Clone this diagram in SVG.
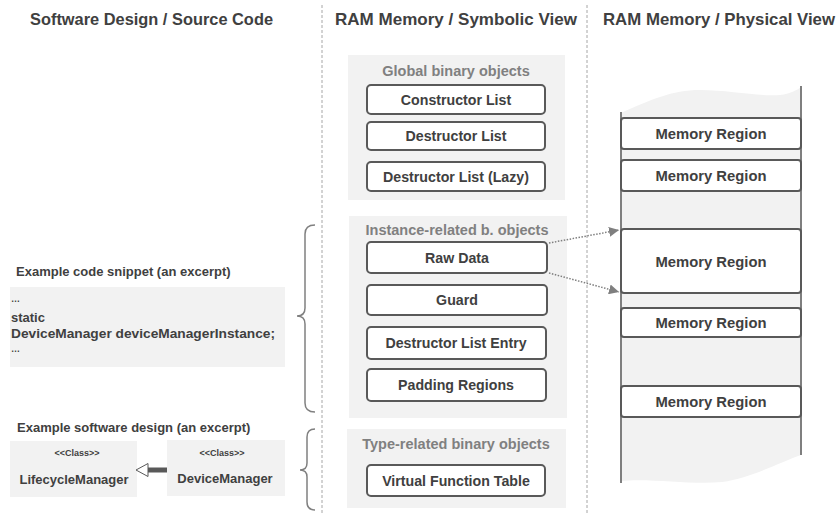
<svg xmlns="http://www.w3.org/2000/svg" width="838" height="514" viewBox="0 0 838 514">
<style>
text{font-family:"Liberation Sans",Arial,sans-serif;font-weight:bold;fill:#404040}
.hdr{font-size:16.5px}
.grp{font-size:14.5px;fill:#808080;text-anchor:middle}
.lbl{font-size:14.2px;text-anchor:middle}
.mlbl{font-size:14.8px;text-anchor:middle}
.sm{font-size:13px}
.code{font-size:13px}
.panel{fill:#f2f2f2}
.box{fill:#fff;stroke:#595959;stroke-width:2}
.mem{fill:#fff;stroke:#595959;stroke-width:2}
.sep{stroke:#a6a6a6;stroke-width:1;stroke-dasharray:3 2;fill:none}
.brace{fill:none;stroke:#808080;stroke-width:1.5}
.dot{fill:none;stroke:#7f7f7f;stroke-width:1.5;stroke-dasharray:1.5 1.5}
</style>
<defs>
<marker id="ah" viewBox="0 0 10 10" refX="10" refY="5" markerWidth="10" markerHeight="10" markerUnits="userSpaceOnUse" orient="auto">
<path d="M0,0 L10,5 L0,10 Z" fill="#7f7f7f"/>
</marker>
</defs>

<g id="headers">
<text class="hdr" x="30" y="25" textLength="243" lengthAdjust="spacingAndGlyphs">Software Design / Source Code</text>
<text class="hdr" x="335" y="25" textLength="242" lengthAdjust="spacingAndGlyphs">RAM Memory / Symbolic View</text>
<text class="hdr" x="603" y="25" textLength="232" lengthAdjust="spacingAndGlyphs">RAM Memory / Physical View</text>
</g>

<g id="separators">
<line class="sep" x1="322" y1="5" x2="322" y2="514"/>
<line class="sep" x1="587" y1="5" x2="587" y2="514"/>
</g>

<g id="code-snippet">
<text class="sm" x="16" y="276">Example code snippet (an excerpt)</text>
<rect class="panel" x="10" y="287" width="275" height="80"/>
<text class="code" x="11" y="302" style="font-size:9px">…</text>
<text class="code" x="11" y="322">static</text>
<text class="code" x="11" y="338" textLength="264" lengthAdjust="spacingAndGlyphs">DeviceManager deviceManagerInstance;</text>
<text class="code" x="11" y="352" style="font-size:9px">…</text>
</g>

<g id="software-design">
<text class="sm" x="17" y="432">Example software design (an excerpt)</text>
</g>
<g id="LifecycleManager">
<rect class="panel" x="10" y="441" width="127" height="56"/>
<text x="77" y="456" style="font-size:9px;text-anchor:middle">&lt;&lt;Class&gt;&gt;</text>
<text x="74" y="484" style="font-size:13px;text-anchor:middle">LifecycleManager</text>
</g>
<g id="DeviceManager">
<rect class="panel" x="167" y="440" width="118" height="56"/>
<text x="222" y="456" style="font-size:9px;text-anchor:middle">&lt;&lt;Class&gt;&gt;</text>
<text x="225" y="483" style="font-size:13px;text-anchor:middle">DeviceManager</text>
</g>

<g id="braces">
<path class="brace" d="M315,225 C308,225 305,229 305,234 L305,308 C305,313 302,316 297,316 C302,316 305,319 305,324 L305,403 C305,408 308,412 315,412"/>
<path class="brace" d="M315,429 C310,429 307,432 307,437 L307,463 C307,467 305,470 300,470 C305,470 307,473 307,477 L307,502 C307,507 310,510 315,510"/>
</g>

<g id="global-objects">
<rect class="panel" x="348" y="55" width="217" height="145"/>
<text class="grp" x="456" y="76">Global binary objects</text>
</g>
<g id="constructor-list">
<rect class="box" x="367" y="85" width="178" height="29" rx="4"/>
<text class="lbl" x="456" y="104.5">Constructor List</text>
</g>
<g id="destructor-list">
<rect class="box" x="367" y="122" width="178" height="28" rx="4"/>
<text class="lbl" x="456" y="141">Destructor List</text>
</g>
<g id="destructor-list-lazy">
<rect class="box" x="367" y="162" width="178" height="29" rx="4"/>
<text class="lbl" x="456" y="181.5">Destructor List (Lazy)</text>
</g>

<g id="instance-objects">
<rect class="panel" x="349" y="216" width="218" height="202"/>
<text class="grp" x="457" y="235">Instance-related b. objects</text>
</g>
<g id="raw-data">
<rect class="box" x="367" y="242" width="180" height="31" rx="4"/>
<text class="lbl" x="457" y="262.5">Raw Data</text>
</g>
<g id="guard">
<rect class="box" x="367" y="285" width="180" height="30" rx="4"/>
<text class="lbl" x="457" y="305">Guard</text>
</g>
<g id="destructor-list-entry">
<rect class="box" x="367" y="327" width="179" height="32" rx="4"/>
<text class="lbl" x="456" y="348">Destructor List Entry</text>
</g>
<g id="padding-regions">
<rect class="box" x="367" y="369" width="179" height="32" rx="4"/>
<text class="lbl" x="456" y="390">Padding Regions</text>
</g>

<g id="type-objects">
<rect class="panel" x="347" y="429" width="219" height="79"/>
<text class="grp" x="456" y="449">Type-related binary objects</text>
</g>
<g id="virtual-function-table">
<rect class="box" x="367" y="465" width="178" height="31" rx="4"/>
<text class="lbl" x="456" y="486">Virtual Function Table</text>
</g>

<g id="physical-memory">
<path d="M621,113 C650,100 672,90 700,90 C730,90 760,97 780,95 C790,94 797,90 801,87 L801,455 C780,462 752,478 722,482 C692,485 650,478 621,481 Z" fill="#f2f2f2"/>
<line x1="621" y1="112" x2="621" y2="483" stroke="#7f7f7f" stroke-width="2"/>
<line x1="801" y1="86" x2="801" y2="455" stroke="#7f7f7f" stroke-width="2"/>
</g>
<g id="memory-region-1">
<rect class="mem" x="621" y="118" width="180" height="31" rx="3"/>
<text class="mlbl" x="711" y="139">Memory Region</text>
</g>
<g id="memory-region-2">
<rect class="mem" x="621" y="160" width="180" height="31" rx="3"/>
<text class="mlbl" x="711" y="181">Memory Region</text>
</g>
<g id="memory-region-3">
<rect class="mem" x="621" y="229" width="180" height="64" rx="3"/>
<text class="mlbl" x="711" y="267">Memory Region</text>
</g>
<g id="memory-region-4">
<rect class="mem" x="621" y="308" width="180" height="29" rx="3"/>
<text class="mlbl" x="711" y="328">Memory Region</text>
</g>
<g id="memory-region-5">
<rect class="mem" x="621" y="386" width="180" height="31" rx="3"/>
<text class="mlbl" x="711" y="407">Memory Region</text>
</g>

<g id="connectors">
<line class="dot" x1="549" y1="243" x2="619" y2="230" marker-end="url(#ah)"/>
<line class="dot" x1="549" y1="273" x2="619" y2="292" marker-end="url(#ah)"/>
<line x1="167" y1="470" x2="147" y2="470" stroke="#595959" stroke-width="5"/>
<polygon points="136,470 148,463.5 148,476.5" fill="#fff" stroke="#595959" stroke-width="1"/>
</g>
</svg>
